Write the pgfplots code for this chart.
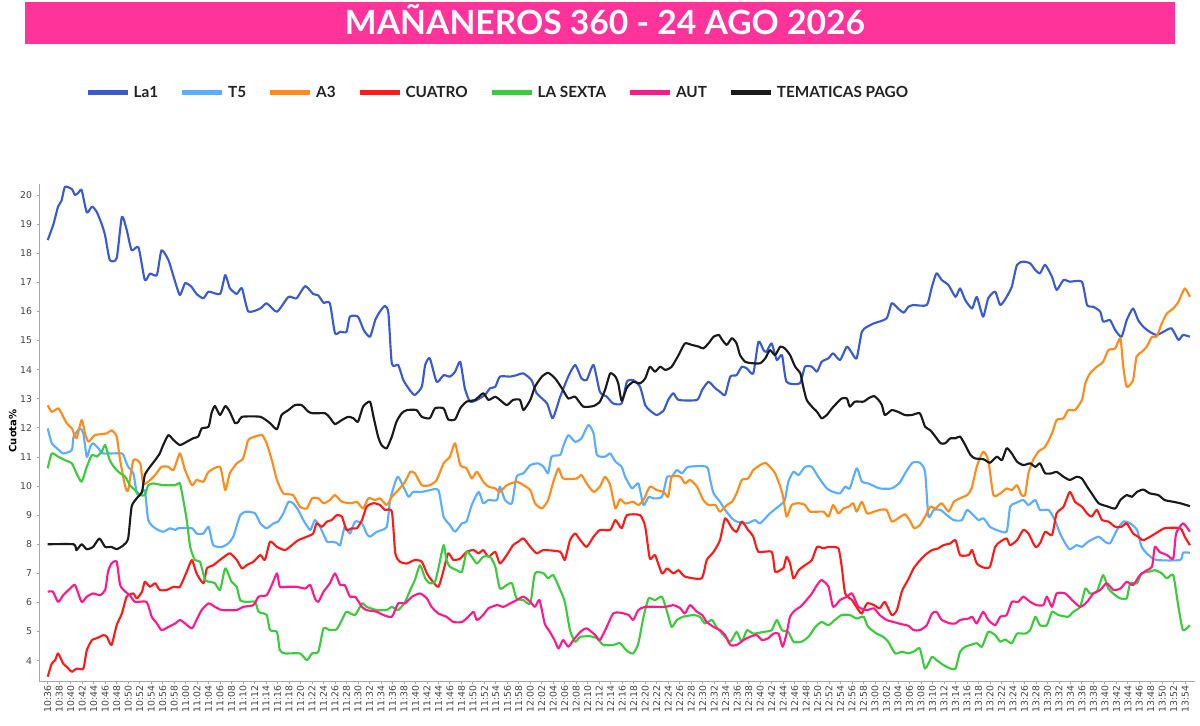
\documentclass[border=0pt]{standalone}
\usepackage{pgfplots}
\pgfplotsset{compat=1.18}
\usepackage{graphicx}
\usepackage{fontspec}
\setmainfont{DejaVu Sans}
\newfontfamily\latofont{Lato}
\definecolor{banner}{HTML}{FF3399}
\definecolor{cLaone}{HTML}{3A5BCF}
\definecolor{cTfive}{HTML}{5AAEFF}
\definecolor{cAthree}{HTML}{FF8C1A}
\definecolor{cCuatro}{HTML}{FF1A1A}
\definecolor{cSexta}{HTML}{3CCB3C}
\definecolor{cAut}{HTML}{FF1A8C}
\definecolor{cTem}{HTML}{1A1A1A}
\definecolor{axisgray}{HTML}{A8A8A8}
\definecolor{ticktext}{HTML}{444444}
\definecolor{legendtext}{HTML}{222222}
\begin{document}
\begin{tikzpicture}
\useasboundingbox (0,0) rectangle (900pt,543.75pt);
\fill[banner] (18.75pt,510.75pt) rectangle (881.25pt,542.25pt);
\node[anchor=base,text=white,inner sep=0pt] at (453.75pt,517.5pt)
  {\resizebox{390pt}{\height}{\latofont\bfseries\fontsize{25}{25}\selectfont MAÑANEROS 360 - 24 AGO 2026}};
\node[rotate=90,font=\bfseries\fontsize{7.5}{7.5}\selectfont,text=black] at (9.5pt,220.5pt) {Cuota\%};
\begin{axis}[
  at={(29.5pt,32.5pt)}, anchor=south west,
  scale only axis, width=866.8pt, height=373.3pt,
  xmin=-1.46, xmax=199.7, ymin=3.28, ymax=20.38,
  axis x line*=bottom, axis y line*=left,
  axis line style={-, draw=axisgray, line width=0.8pt},
  /pgf/number format/assume math mode=true,
  xtick={0,2,...,198},
  xticklabels={10:36,10:38,10:40,10:42,10:44,10:46,10:48,10:50,10:52,10:54,10:56,10:58,
    11:00,11:02,11:04,11:06,11:08,11:10,11:12,11:14,11:16,11:18,11:20,11:22,11:24,11:26,11:28,11:30,11:32,11:34,11:36,11:38,11:40,11:42,11:44,11:46,11:48,11:50,11:52,11:54,11:56,11:58,
    12:00,12:02,12:04,12:06,12:08,12:10,12:12,12:14,12:16,12:18,12:20,12:22,12:24,12:26,12:28,12:30,12:32,12:34,12:36,12:38,12:40,12:42,12:44,12:46,12:48,12:50,12:52,12:54,12:56,12:58,
    13:00,13:02,13:04,13:06,13:08,13:10,13:12,13:14,13:16,13:18,13:20,13:22,13:24,13:26,13:28,13:30,13:32,13:34,13:36,13:38,13:40,13:42,13:44,13:46,13:48,13:50,13:52,13:54},
  ytick={4,5,...,20},
  tick align=outside, major tick length=2pt,
  tick style={axisgray, line width=0.6pt},
  x tick label style={rotate=90, anchor=east, font=\fontsize{7}{7}\selectfont, text=ticktext, inner sep=1pt},
  y tick label style={font=\fontsize{7}{7}\selectfont, text=ticktext},
  legend columns=7,
  legend cell align=left,
  legend image code/.code={\draw[#1, line width=4pt] (0pt,0pt) -- (30pt,0pt);},
  legend style={at={(0.0393,1.1833)}, anchor=west, draw=none, fill=none,
    inner sep=0pt, nodes={inner sep=1pt},
    font=\latofont\bfseries\fontsize{11.5}{12}\selectfont, text=legendtext,
    /tikz/every odd column/.append style={column sep=1.5pt},
    /tikz/every even column/.append style={column sep=14.9pt}},
  every axis plot/.append style={line width=1.6pt, smooth, tension=0.35, line join=round, mark=none},
]
% La1
\addplot[cLaone] coordinates {(0,18.45) (1,19.0) (1.8,19.6) (2.4,19.8) (3,20.28) (4.2,20.2) (4.75,20.0) (5.3,20.07) (5.9,20.17) (6.8,19.4) (7.7,19.6) (8.5,19.43) (9.4,19.0) (10,18.6) (10.8,17.77) (12,17.83) (12.9,19.25) (13.75,18.8) (14.6,18.1) (15.8,18.2) (16.9,17.08) (17.8,17.3) (19,17.25) (19.8,18.1) (21,17.77) (21.9,17.2) (23,16.56) (23.9,16.97) (25,16.85) (25.9,16.6) (27.1,16.45) (28,16.68) (30,16.6) (30.9,17.25) (31.7,16.8) (32.9,16.6) (33.8,16.8) (34.9,16.0) (37,16.1) (38.1,16.28) (39.9,15.99) (41.9,16.5) (43.3,16.45) (44.8,16.87) (46.2,16.6) (47.1,16.55) (48,16.3) (49.1,16.28) (50,15.25) (50.9,15.3) (52,15.3) (52.6,15.82) (54,15.82) (55,15.36) (56.1,15.13) (57,15.7) (57.8,15.99) (58.7,16.19) (59.3,15.94) (59.9,14.2) (61,14.16) (61.9,13.64) (63,13.3) (63.9,13.13) (65.1,13.41) (65.7,14.16) (66.5,14.39) (67.7,13.58) (68.9,13.81) (70,13.76) (70.9,13.93) (71.8,14.27) (72.6,13.36) (73.5,12.9) (74.7,12.96) (76.1,13.13) (77,13.36) (77.9,13.41) (78.7,13.76) (80.5,13.76) (81.6,13.81) (82.8,13.87) (84.2,13.64) (85.1,13.19) (86.9,12.84) (87.9,12.33) (89.2,13.07) (90.6,13.76) (91.8,14.16) (92.9,13.7) (93.8,13.64) (95,14.16) (96.1,13.24) (97.3,13.07) (98.4,12.84) (99.9,12.84) (100.8,13.58) (101.9,13.64) (103.1,13.41) (104,12.78) (104.8,12.6) (106,12.44) (107.2,12.6) (108,12.96) (108.9,13.19) (109.8,12.96) (113,12.96) (113.9,13.3) (115,13.58) (116.2,13.36) (117,13.24) (117.9,13.13) (118.8,13.76) (119.9,13.81) (120.8,14.1) (121.7,14.04) (122.8,13.87) (123.7,14.96) (124.6,14.67) (125.1,14.61) (126,14.9) (126.9,14.33) (127.8,14.5) (128.6,13.58) (130.9,13.53) (131.8,14.1) (133,14.1) (133.9,13.93) (134.7,14.27) (135.9,14.39) (136.7,14.56) (137.9,14.33) (139.1,14.79) (140,14.56) (140.8,14.39) (141.7,15.3) (142.6,15.47) (143.8,15.59) (146,15.76) (146.9,16.28) (148,16.1) (149,15.96) (149.8,16.16) (150.7,16.22) (153,16.22) (153.9,16.85) (154.7,17.31) (155.6,17.08) (156.8,16.9) (158,16.5) (158.8,16.79) (159.7,16.39) (160.9,16.1) (161.7,16.5) (162.8,15.82) (163.7,16.45) (164.9,16.68) (165.8,16.22) (166.9,16.5) (167.8,16.85) (168.7,17.6) (169.8,17.71) (171,17.65) (171.9,17.42) (172.7,17.31) (173.6,17.6) (174.8,17.19) (175.6,16.74) (176.8,17.08) (177.9,17.02) (180,17.02) (180.9,16.22) (182,16.16) (183.2,15.99) (183.7,15.65) (184.9,15.7) (185.8,15.36) (186.9,15.13) (187.8,15.7) (188.9,16.1) (189.8,15.7) (190.7,15.47) (191.8,15.3) (193,15.19) (194.2,15.3) (195.6,15.42) (196.8,15.02) (197.6,15.19) (198.8,15.13)};
\addlegendentry{La1}
% T5
\addplot[cTfive] coordinates {(0,11.98) (0.7,11.47) (1.6,11.3) (2.7,11.12) (4.2,11.24) (4.5,11.7) (5.6,11.98) (6.2,11.8) (6.8,11.0) (7.4,11.35) (7.9,11.47) (8.8,11.3) (9.7,11.12) (12.9,11.12) (13.5,10.89) (14,10.66) (14.9,10.44) (15.5,9.75) (16.1,9.69) (16.9,9.86) (17.5,8.83) (18.7,8.55) (20.1,8.43) (21.3,8.55) (22.2,8.49) (22.7,8.55) (25.1,8.55) (25.9,8.37) (27.1,8.37) (28,8.6) (28.8,7.97) (30.3,7.91) (31.4,8.03) (32.3,8.26) (33.5,9.0) (34.6,9.12) (36.1,9.06) (37,8.72) (38.1,8.55) (39.3,8.72) (40.1,8.78) (41,9.06) (41.9,9.46) (42.7,9.41) (43.6,9.18) (44.5,8.83) (45.7,8.49) (46.5,8.83) (47.4,8.6) (48.6,8.09) (49.4,8.09) (50.3,8.05) (50.9,7.97) (51.7,8.6) (52.6,8.37) (53.5,8.78) (54.7,8.72) (55.5,8.37) (56.1,8.26) (57.3,8.43) (59,8.6) (59.6,9.52) (60.5,10.15) (61,10.32) (61.9,9.98) (62.8,9.63) (63.6,9.8) (65.1,9.8) (66.5,9.86) (68,9.86) (68.9,8.95) (70,8.66) (70.9,8.43) (72.1,8.72) (72.9,8.78) (73.8,9.35) (75,9.8) (75.8,9.41) (76.7,9.52) (78.2,9.52) (78.7,9.98) (79.6,9.52) (80.8,9.41) (81.6,10.32) (82.8,10.44) (84,10.72) (85.4,10.78) (86.3,10.66) (87.1,10.44) (87.7,11.01) (89.2,11.07) (89.7,11.35) (90.6,11.75) (91.8,11.52) (92.9,11.64) (94.1,12.1) (95,11.81) (95.6,11.07) (97,11.01) (97.9,11.12) (98.8,10.84) (99.9,10.66) (100.5,10.32) (101.7,9.92) (102.8,10.09) (103.7,9.35) (104.6,9.63) (105.4,9.58) (106.9,9.63) (107.8,10.32) (108.6,10.32) (109.5,10.55) (110.4,10.44) (111.5,10.66) (114.7,10.66) (115.3,10.21) (115.9,9.75) (117,9.46) (117.9,9.18) (119.1,8.89) (119.9,8.78) (121.7,8.72) (123.1,8.83) (124,8.72) (125.7,9.06) (127.5,9.35) (128.3,9.52) (128.9,10.15) (129.8,10.49) (130.7,10.38) (131.8,10.66) (133,10.66) (134.1,10.32) (135.6,9.92) (136.7,9.8) (137.9,9.75) (138.8,9.98) (139.6,9.92) (140.8,10.61) (141.7,10.15) (142.8,10.09) (144.8,9.92) (146.9,9.92) (148.3,10.12) (149.3,10.46) (150.5,10.8) (151.8,10.8) (152.7,10.49) (153.3,8.95) (154.2,9.18) (155.4,9.18) (156.5,9.0) (157.7,8.83) (159.1,8.83) (160,9.18) (161.1,9.0) (162,8.83) (162.9,8.89) (164,8.6) (165.2,8.49) (166.9,8.43) (167.5,9.29) (168.4,9.41) (169.8,9.52) (170.7,9.35) (171.9,9.52) (172.7,9.18) (174.2,9.18) (175.3,8.83) (176.2,8.37) (177.1,8.03) (177.9,7.83) (179.1,7.97) (180,7.91) (181.1,8.09) (182.9,8.26) (184,8.09) (184.9,8.03) (186.1,8.49) (187.2,8.78) (188.4,8.72) (189.6,8.49) (190.4,7.91) (191.6,7.63) (193,7.46) (197.1,7.46) (197.6,7.71) (198.8,7.71)};
\addlegendentry{T5}
% A3
\addplot[cAthree] coordinates {(0,12.78) (0.7,12.55) (1.8,12.67) (2.4,12.5) (3.3,12.16) (4.2,11.98) (5,11.64) (5.9,12.27) (6.5,11.81) (7.1,11.52) (8.2,11.75) (10.3,11.81) (11.1,11.92) (12,11.7) (12.6,10.89) (13.5,9.98) (14,9.86) (14.9,10.89) (16.1,10.78) (16.6,10.09) (17.5,10.15) (18.7,10.38) (19.8,10.66) (21,10.66) (21.9,10.55) (23,11.12) (23.9,10.55) (25.1,10.03) (25.9,10.21) (27.1,10.15) (28,10.49) (30,10.66) (30.9,9.86) (31.7,10.44) (32.9,10.78) (34,10.95) (34.9,11.58) (36.1,11.7) (37.3,11.75) (38.1,11.47) (39,10.89) (39.9,10.21) (41,9.75) (42.7,9.69) (43.9,9.29) (45.1,9.23) (46,9.58) (47.1,9.58) (48,9.41) (49.1,9.52) (50,9.69) (51.2,9.46) (52.9,9.41) (53.8,9.46) (54.9,9.23) (55.8,9.58) (57,9.52) (57.8,9.58) (59,9.35) (59.9,9.63) (61,9.86) (62.2,10.15) (63.1,10.49) (63.9,10.44) (65.1,10.03) (66.5,10.03) (67.7,10.21) (68.9,10.78) (70,11.01) (70.9,11.47) (71.8,10.72) (72.9,10.61) (73.8,10.26) (74.7,10.49) (75.8,10.15) (76.7,9.98) (77.9,9.92) (78.7,9.8) (79.9,10.03) (81.6,10.15) (82.8,10.03) (84,9.86) (84.8,9.41) (86,9.23) (87.1,9.52) (88,10.15) (88.9,10.61) (89.7,10.26) (92.1,10.26) (92.9,10.38) (93.8,10.09) (95,9.8) (96.1,9.98) (97,10.32) (97.9,10.03) (98.8,9.23) (99.6,9.55) (100.5,9.4) (101.9,9.46) (102.8,9.35) (103.7,9.52) (104.8,9.98) (106,9.86) (107.2,9.8) (108,9.63) (108.6,10.32) (110.1,10.32) (110.9,10.09) (111.8,10.21) (113,9.98) (114.1,9.52) (115,9.35) (116.2,9.35) (117,9.12) (118.2,9.35) (119.1,9.46) (119.9,9.75) (120.8,10.21) (121.9,10.26) (122.8,10.55) (124,10.72) (124.9,10.8) (125.7,10.66) (126.6,10.44) (127.5,9.98) (128,9.63) (128.6,8.95) (129.5,9.35) (130.7,9.41) (131.8,9.35) (132.7,9.12) (135,9.12) (135.9,8.95) (136.7,9.35) (137.6,9.06) (138.5,9.23) (139.4,9.29) (140.2,9.41) (140.8,9.12) (141.7,9.46) (142.6,9.06) (143.8,9.12) (144.8,9.18) (146,9.18) (146.9,8.78) (148,8.89) (149.2,9.03) (150.1,8.8) (150.8,8.55) (151.8,8.66) (152.7,8.95) (153.6,9.29) (154.5,9.23) (155.6,9.41) (156.8,9.12) (157.7,9.46) (158.8,9.58) (160,9.69) (160.8,9.92) (161.7,10.66) (162.8,11.18) (163.7,10.89) (164.6,9.69) (165.8,9.75) (166.9,9.92) (167.8,9.86) (168.7,10.03) (169.5,9.69) (170.1,9.69) (170.7,10.44) (171.5,10.89) (172.4,11.18) (173.6,11.35) (174.8,11.81) (175.6,12.27) (176.8,12.33) (177.6,12.61) (178.8,12.61) (180,12.96) (180.6,13.53) (181.4,13.87) (182.6,14.1) (183.7,14.27) (184.6,14.67) (185.8,14.73) (186.7,15.08) (187.2,14.1) (187.8,13.41) (188.9,13.64) (189.5,14.44) (190.4,14.61) (191.3,14.79) (192.2,15.13) (193,15.13) (193.9,15.59) (194.8,15.93) (195.9,16.1) (196.8,16.33) (197.9,16.79) (198.8,16.5)};
\addlegendentry{A3}
% CUATRO
\addplot[cCuatro] coordinates {(0,3.45) (0.7,3.9) (1.3,4.02) (1.8,4.25) (2.7,3.9) (3.3,3.79) (4.2,3.62) (5,3.73) (6.2,3.73) (6.8,4.36) (7.7,4.71) (8.5,4.77) (9.7,4.88) (10.3,4.82) (11.1,4.54) (12,5.22) (12.9,5.62) (13.75,6.2) (14.9,6.31) (15.5,6.14) (16.4,6.37) (16.9,6.71) (17.8,6.54) (18.7,6.66) (19.5,6.43) (20.7,6.43) (21.9,6.54) (23,6.54) (24.2,7.06) (25.1,7.46) (25.9,7.0) (27.1,6.66) (27.7,7.17) (28.8,7.28) (30.3,7.51) (31.7,7.69) (32.9,7.46) (33.8,7.17) (34.6,7.28) (35.8,7.4) (37,7.63) (37.8,7.46) (38.7,8.09) (39.9,7.91) (41.3,7.8) (42.5,7.97) (43.6,8.14) (45.1,8.26) (46.2,8.37) (46.8,8.72) (47.7,8.6) (48.6,8.78) (49.4,8.83) (50.3,9.0) (51.2,8.95) (52,8.49) (52.9,8.55) (53.8,8.55) (54.7,8.83) (55.5,9.29) (56.7,9.41) (57.8,9.35) (58.7,9.18) (59.9,9.12) (60.5,7.69) (61.3,7.4) (62.5,7.34) (63.9,7.46) (65.1,7.4) (66,7.0) (66.8,6.77) (68,6.54) (68.9,7.11) (69.7,7.69) (70.6,7.46) (71.8,7.51) (72.9,7.74) (74.1,7.8) (75,7.69) (75.8,7.8) (76.7,7.57) (77.9,7.74) (78.7,7.34) (79.9,7.63) (81,7.97) (81.9,8.09) (82.8,8.2) (84,7.91) (85.1,7.69) (86.3,7.8) (89.2,7.74) (90,7.46) (90.9,8.14) (91.8,8.37) (92.7,8.14) (93.8,7.91) (95,8.26) (96.1,8.49) (97.9,8.49) (98.8,8.83) (99.9,8.55) (100.8,9.0) (103.1,9.0) (104,8.6) (104.8,7.51) (105.7,7.63) (106.9,7.0) (107.8,7.17) (108.9,7.0) (109.8,7.11) (110.9,6.89) (113.8,6.83) (114.7,7.46) (115.9,7.74) (117,8.14) (117.9,8.89) (119.1,8.55) (119.9,8.43) (120.8,8.78) (121.9,8.49) (122.8,8.26) (123.7,7.74) (126,7.74) (126.6,7.06) (127.5,7.11) (128.1,7.2) (128.6,7.57) (129.2,7.34) (129.8,6.83) (130.7,7.11) (131.8,7.28) (133,7.46) (133.9,7.91) (135,7.86) (135.9,7.91) (137.6,7.86) (138.2,7.23) (138.8,6.31) (140,6.08) (141.1,5.74) (141.7,5.62) (142.6,5.97) (143.8,5.91) (144.8,5.8) (145.7,6.02) (146.9,5.57) (147.8,5.74) (148.7,6.4) (149.8,6.8) (150.7,7.17) (151.6,7.4) (152.7,7.63) (153.9,7.8) (155,7.86) (155.9,7.97) (157.1,8.03) (158,8.14) (158.8,7.63) (160.3,7.63) (160.9,7.8) (161.7,7.34) (162.9,7.2) (164,7.23) (164.9,7.91) (165.8,8.09) (166.9,8.2) (167.5,7.97) (168.7,8.14) (169.8,8.49) (170.7,8.37) (171.9,7.91) (172.7,8.03) (173.6,8.43) (174.8,8.32) (175.6,9.06) (176.8,9.29) (177.9,9.8) (178.8,9.46) (180,9.29) (180.9,9.06) (181.7,8.95) (182.6,9.18) (183.5,8.83) (184.6,8.78) (185.8,8.6) (186.9,8.6) (187.8,8.72) (188.9,8.37) (189.8,8.26) (190.7,8.14) (192.4,8.32) (194.4,8.55) (197.1,8.55) (197.9,8.26) (198.8,7.97)};
\addlegendentry{CUATRO}
% LA SEXTA
\addplot[cSexta] coordinates {(0,10.61) (0.7,11.12) (1.8,11.01) (3,10.89) (4.2,10.78) (5,10.44) (5.9,10.15) (6.8,10.66) (7.7,11.07) (8.5,11.01) (9.4,11.18) (10,11.41) (10.8,10.89) (11.7,10.61) (12.6,10.44) (13.5,10.32) (14.3,10.03) (15.2,9.86) (16.1,9.69) (16.9,9.69) (17.5,10.03) (18.4,10.09) (20.1,10.03) (22.2,10.03) (23,10.09) (23.6,9.52) (24.2,8.83) (24.8,7.91) (25.6,7.46) (26.5,7.4) (27.4,6.77) (28.3,6.71) (29.1,6.66) (30,6.43) (30.9,7.17) (32,6.71) (32.9,6.54) (33.5,6.08) (34.6,6.02) (36.1,6.02) (36.7,5.68) (38.1,5.57) (38.7,5.05) (39.9,4.99) (40.4,4.36) (41.3,4.25) (43.9,4.25) (45.1,4.02) (46,4.25) (47.1,4.31) (48,5.11) (49.1,5.05) (50.3,5.08) (51.2,5.4) (52,5.68) (53.5,5.57) (54.7,5.97) (55.5,5.85) (57.3,5.74) (59,5.74) (59.9,5.85) (61,5.74) (62.2,6.02) (63.1,6.43) (63.9,6.77) (64.8,7.28) (65.7,6.83) (66.5,6.66) (67.4,6.71) (68,7.17) (68.9,7.97) (69.4,7.46) (70,7.23) (71.2,7.11) (72.1,7.06) (72.9,7.74) (73.8,7.57) (74.7,7.34) (75.8,7.57) (77,7.57) (77.9,7.23) (78.7,6.48) (79.9,6.6) (80.8,6.66) (81.6,6.14) (82.8,6.08) (84,5.97) (84.8,7.0) (86.3,7.0) (87.1,6.83) (88,6.94) (89.2,6.43) (90,6.02) (90.9,5.05) (91.8,4.65) (92.7,4.82) (94.4,4.84) (95.6,4.77) (96.7,4.54) (98.4,4.54) (99.6,4.6) (100.8,4.34) (101.9,4.25) (102.8,4.6) (103.7,5.51) (104.6,6.14) (105.7,6.08) (106.9,6.2) (107.8,5.68) (108.6,5.16) (109.5,5.4) (110.6,5.51) (112.4,5.57) (113.5,5.51) (114.4,5.28) (115.6,5.4) (116.4,5.16) (117.6,4.88) (118.8,4.65) (119.9,4.99) (120.8,4.65) (121.7,5.05) (122.8,4.93) (124.6,4.99) (126,5.05) (126.9,5.4) (127.8,5.05) (128.9,4.99) (129.8,4.65) (131.2,4.65) (132.4,4.82) (133.6,5.16) (134.7,5.33) (135.9,5.22) (137,5.4) (138.2,5.57) (139.6,5.57) (140.8,5.45) (142,5.51) (142.8,5.16) (144.3,4.93) (145.4,4.82) (146.3,4.65) (147.5,4.25) (148.7,4.31) (149.8,4.25) (150.9,4.33) (151.8,4.42) (152.7,3.73) (153.9,4.13) (154.7,4.02) (155.9,3.85) (157.1,3.73) (158,3.73) (158.8,4.31) (159.7,4.48) (160.6,4.54) (161.7,4.6) (162.6,4.48) (163.7,4.99) (164.9,4.88) (165.8,4.65) (166.6,4.73) (167.8,4.6) (168.7,4.93) (170.1,4.93) (171,5.05) (171.9,5.51) (172.7,5.22) (173.9,5.22) (174.8,5.68) (175.9,5.57) (177.6,5.51) (178.5,5.68) (179.7,5.85) (180.6,6.48) (181.4,6.31) (182.6,6.37) (183.7,6.94) (184.6,6.48) (185.8,6.25) (186.7,6.14) (187.8,6.14) (188.4,6.66) (189.6,6.66) (190.4,7.0) (191.8,7.06) (192.7,7.11) (193.9,7.0) (194.8,6.83) (195.9,6.94) (196.8,5.85) (197.6,5.05) (198.8,5.22)};
\addlegendentry{LA SEXTA}
% AUT
\addplot[cAut] coordinates {(0,6.37) (0.9,6.37) (1.8,6.02) (2.7,6.25) (3.9,6.48) (4.75,6.6) (5.9,6.02) (6.8,6.2) (7.9,6.31) (9.1,6.25) (10,6.43) (10.5,7.06) (11.1,7.34) (12,7.4) (12.6,6.6) (13.5,6.37) (14.3,6.25) (15.2,6.02) (17.2,6.02) (18.1,5.51) (19,5.28) (19.8,5.05) (21,5.16) (22.2,5.28) (23,5.4) (23.9,5.28) (25.1,5.11) (25.9,5.4) (26.8,5.74) (28,5.97) (29.1,5.85) (30.3,5.74) (32.9,5.74) (34,5.85) (35.8,5.91) (36.7,6.2) (38.1,6.25) (39,6.6) (39.9,7.0) (40.4,6.54) (41.6,6.54) (43.3,6.54) (44.8,6.48) (45.7,6.6) (46.5,6.14) (47.1,6.02) (48,6.37) (49.1,6.66) (50,7.0) (50.9,6.6) (51.7,6.6) (52.6,6.2) (53.5,6.2) (54.7,5.85) (55.5,5.74) (57.3,5.68) (58.4,5.57) (59.9,5.51) (61,5.97) (62.2,5.97) (63.4,6.2) (64.8,6.31) (66,6.14) (66.8,5.85) (68,5.62) (69.4,5.51) (70.6,5.33) (72.1,5.33) (73.2,5.51) (74.1,5.68) (74.7,5.4) (75.8,5.57) (76.7,5.8) (78.2,5.91) (79.3,5.85) (80.5,5.97) (81.6,6.08) (82.8,6.2) (84,6.02) (84.8,5.85) (85.6,6.08) (86.5,5.28) (87.4,4.99) (88.2,4.71) (88.9,4.42) (89.7,4.71) (90.6,4.48) (91.5,4.71) (92.7,4.99) (93.8,5.11) (95.3,4.88) (96.1,4.71) (97.3,5.16) (98.4,5.62) (99.6,5.65) (101.1,5.57) (101.9,5.4) (102.8,5.74) (104,5.85) (107.5,5.85) (108.9,5.91) (110.1,5.8) (110.9,5.62) (111.8,5.91) (113,5.68) (113.9,5.57) (114.7,5.33) (115.9,5.16) (117,5.05) (117.9,4.88) (118.8,4.54) (119.9,4.54) (121.1,4.71) (122.2,4.82) (123.4,4.88) (124.3,4.71) (125.4,4.77) (126.3,4.93) (127.2,4.93) (127.9,4.48) (128.6,4.93) (129.2,5.51) (130.1,5.74) (131,5.85) (131.8,6.02) (133,6.31) (133.9,6.6) (134.7,6.77) (135.9,6.54) (136.7,5.85) (137.9,6.08) (139.1,6.2) (140,6.31) (141.1,5.85) (142.6,5.74) (143.8,5.8) (144.8,5.57) (146,5.4) (147.2,5.33) (148.7,5.25) (149.8,5.2) (150.7,5.05) (151.8,5.05) (153,5.22) (153.9,5.62) (154.7,5.68) (155.6,5.4) (157.1,5.28) (158,5.28) (158.8,5.4) (160.3,5.45) (160.9,5.51) (161.7,5.28) (162.8,5.68) (163.7,5.4) (164.9,5.22) (165.8,5.51) (166.9,5.57) (167.8,6.02) (168.9,6.02) (169.8,6.2) (171,6.02) (172.1,5.91) (173.3,5.91) (173.9,6.2) (174.8,5.85) (175.6,6.31) (177.1,6.31) (178.3,6.08) (179.7,5.85) (180.9,6.02) (182,6.31) (183.2,6.43) (184.3,6.66) (185.5,6.43) (186.7,6.48) (187.8,6.71) (188.9,6.6) (190.1,6.94) (191.3,7.11) (192.2,7.23) (192.7,7.91) (193.5,7.74) (194.8,7.63) (195.9,7.51) (196.4,8.37) (197.6,8.72) (198.8,8.43)};
\addlegendentry{AUT}
% TEMATICAS PAGO
\addplot[cTem] coordinates {(0,8.0) (4.5,8.0) (5,7.8) (5.9,8.0) (6.8,7.83) (7.9,7.91) (9,8.2) (10,7.91) (11.1,7.91) (12,7.83) (13.2,7.97) (14,8.2) (14.6,9.29) (15.5,9.58) (16.4,9.8) (16.9,10.38) (17.8,10.66) (18.7,10.89) (19.5,11.12) (20.1,11.41) (21,11.75) (21.9,11.58) (23,11.41) (24.2,11.52) (25.3,11.64) (26.2,11.7) (26.8,11.98) (28,12.04) (28.5,12.5) (29.1,12.75) (30,12.44) (30.9,12.75) (31.7,12.55) (32.6,12.16) (33.2,12.21) (33.8,12.38) (37,12.38) (38.7,12.16) (39.9,11.95) (40.7,12.44) (41.9,12.61) (43,12.78) (44.2,12.78) (45.4,12.55) (46.2,12.5) (48.3,12.5) (49.1,12.35) (50,12.13) (51.2,12.27) (52.3,12.38) (53.2,12.33) (54,12.21) (54.9,12.73) (56.1,12.9) (56.7,12.38) (57.5,11.7) (58.1,11.41) (59,11.3) (59.9,11.7) (60.7,12.21) (61.6,12.5) (62.5,12.61) (64.2,12.61) (65.1,12.38) (66.5,12.33) (67.4,12.67) (68.9,12.67) (69.7,12.29) (70.9,12.29) (71.8,12.67) (72.9,12.9) (74.4,12.96) (75.8,13.19) (76.7,12.96) (77.9,13.07) (78.7,12.96) (79.9,12.78) (81,12.96) (82.2,12.96) (82.8,12.61) (84,12.96) (84.8,13.41) (86,13.76) (87.1,13.89) (88.3,13.7) (89.5,13.36) (90.6,13.01) (91.8,13.07) (93.2,12.73) (95,12.75) (96.1,12.9) (97,13.3) (97.9,13.87) (98.8,13.76) (99.3,13.53) (99.9,12.93) (100.8,13.38) (101.9,13.58) (103.1,13.53) (104,13.7) (104.8,14.1) (105.7,13.93) (106.6,14.1) (107.5,13.99) (108.6,14.1) (109.8,14.5) (110.9,14.9) (112.1,14.85) (113.3,14.79) (114.1,14.73) (115,14.9) (115.9,15.13) (116.8,15.19) (117.4,15.02) (118.2,14.85) (119.1,15.08) (119.9,14.9) (120.5,14.5) (121.4,14.27) (122.6,14.22) (124,14.22) (124.9,14.39) (125.7,14.67) (126.6,14.5) (127.5,14.79) (128.3,14.73) (129.2,14.5) (130.1,14.1) (131,13.87) (131.5,13.41) (132.1,12.96) (133,12.73) (133.9,12.55) (134.7,12.33) (135.6,12.44) (136.5,12.67) (137.3,12.84) (138.2,13.01) (139.1,13.01) (139.6,12.73) (140.5,12.9) (142,12.9) (142.8,13.01) (143.8,13.09) (144.6,12.96) (145.2,12.78) (145.7,12.44) (146.9,12.61) (148,12.55) (149.2,12.44) (150.4,12.44) (151.8,12.5) (152.7,12.04) (153.6,11.92) (154.5,11.7) (155.4,11.47) (156.2,11.47) (157.1,11.64) (158,11.64) (158.8,11.7) (159.7,11.41) (160.6,11.07) (161.4,10.95) (162.9,10.92) (164,10.8) (165.2,11.01) (166.1,10.89) (166.9,11.3) (167.8,11.12) (168.7,10.84) (169.8,10.72) (171,10.78) (171.9,10.66) (172.7,10.78) (173.6,10.44) (174.8,10.44) (175.6,10.49) (176.8,10.32) (177.9,10.21) (179.1,10.32) (180,10.26) (180.9,9.98) (181.7,9.75) (182.9,9.41) (184.3,9.31) (185.8,9.23) (186.7,9.52) (187.8,9.69) (188.7,9.63) (189.6,9.8) (190.7,9.88) (191.8,9.75) (193.3,9.69) (194.4,9.52) (195.9,9.46) (197.1,9.41) (198.8,9.31)};
\addlegendentry{TEMATICAS PAGO}
\end{axis}
\end{tikzpicture}
\end{document}
